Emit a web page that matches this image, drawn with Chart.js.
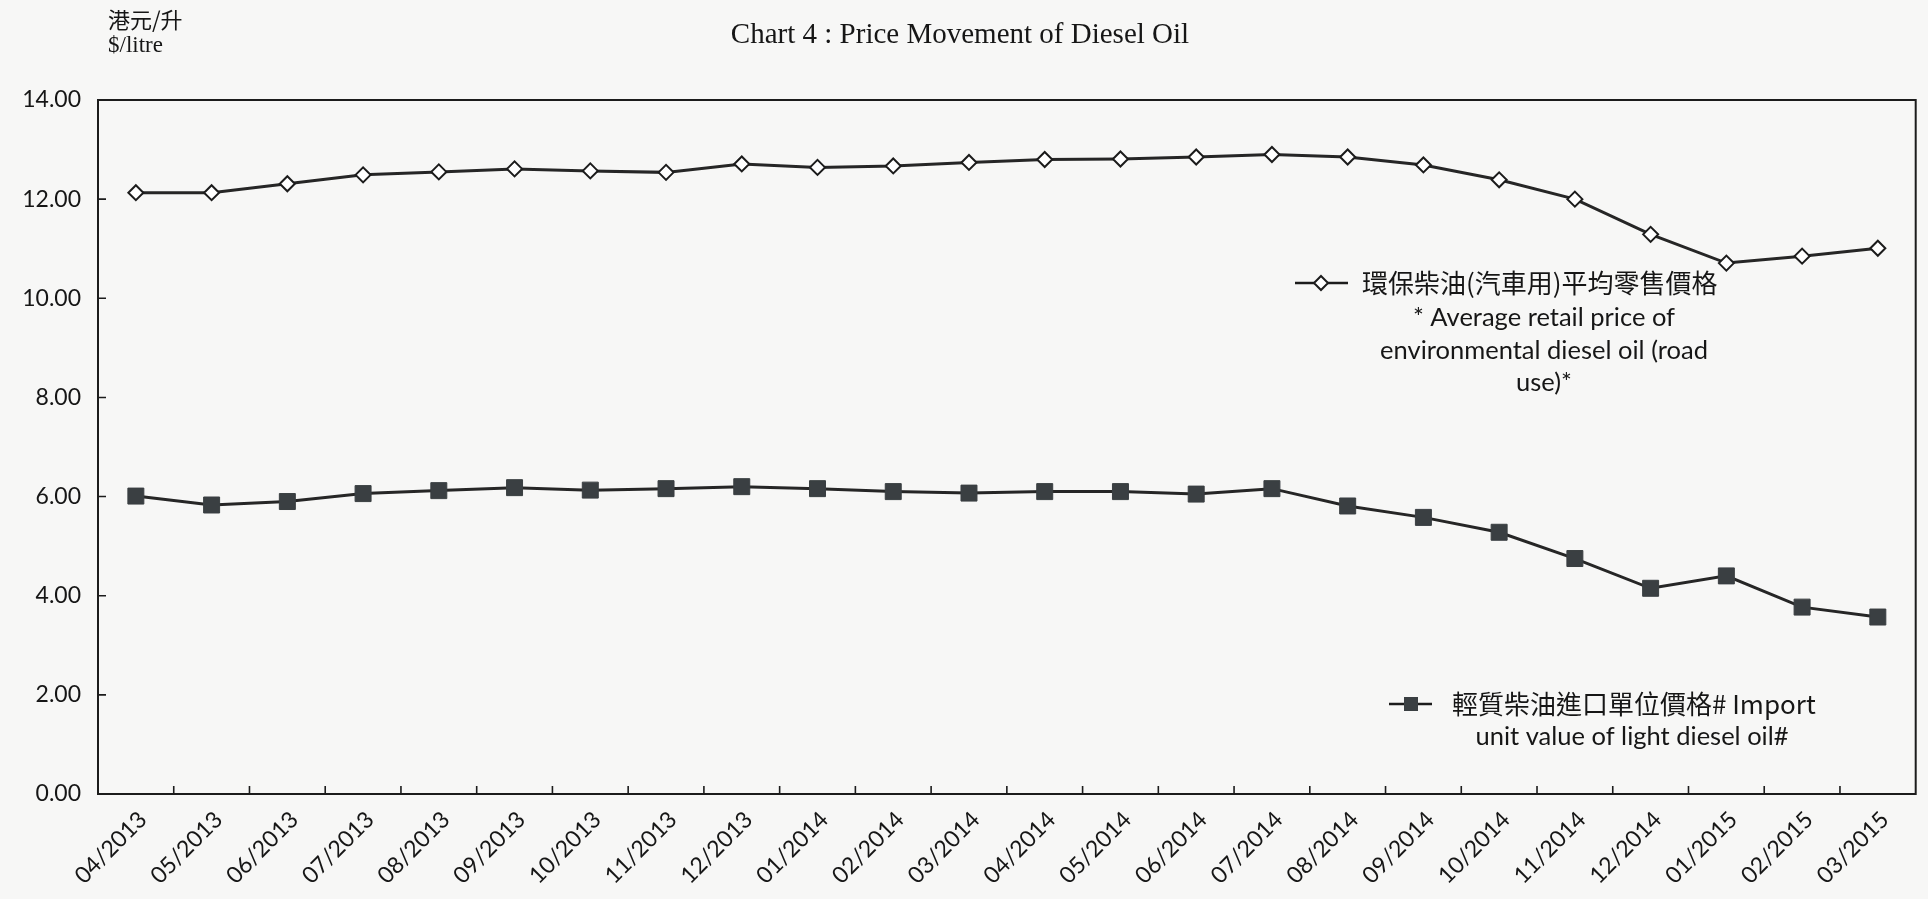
<!DOCTYPE html>
<html><head><meta charset="utf-8">
<script src="https://cdn.jsdelivr.net/npm/chart.js@4.4.1/dist/chart.umd.min.js"></script>
<style>html,body{margin:0;padding:0;background:#f7f7f6;}canvas{display:block;}</style>
</head><body>
<canvas id="c" width="1928" height="899"></canvas>
<script>
const months = ['04/2013','05/2013','06/2013','07/2013','08/2013','09/2013','10/2013','11/2013','12/2013',
  '01/2014','02/2014','03/2014','04/2014','05/2014','06/2014','07/2014','08/2014','09/2014','10/2014','11/2014','12/2014',
  '01/2015','02/2015','03/2015'];
const retailPrice = [12.13,12.13,12.31,12.49,12.55,12.61,12.57,12.54,12.71,12.64,12.67,12.74,
  12.80,12.81,12.85,12.90,12.85,12.69,12.39,12.00,11.29,10.71,10.85,11.01];
const importValue = [6.01,5.83,5.90,6.06,6.12,6.18,6.13,6.16,6.20,6.16,6.10,6.07,
  6.10,6.10,6.05,6.16,5.81,5.58,5.28,4.75,4.15,4.40,3.77,3.57];
const yMin = 0, yMax = 14, yStep = 2;
const titleText = 'Chart 4 : Price Movement of Diesel Oil';
const unitLines = ['港元/升', '$/litre'];
const retailLegendLines = ['環保柴油(汽車用)平均零售價格', '* Average retail price of', 'environmental diesel oil (road', 'use)*'];
const importLegendLines = ['輕質柴油進口單位價格# Import', 'unit value of light diesel oil#'];

const INK = '#1c1c1c';
const TXT = '#161616';
const SANS = 'Lato, "Open Sans", sans-serif';
const CJK = '"Noto Sans CJK TC", "Noto Sans CJK SC", sans-serif';

function diamond(ctx, x, y, r) {
  ctx.beginPath(); ctx.moveTo(x, y - r); ctx.lineTo(x + r, y); ctx.lineTo(x, y + r); ctx.lineTo(x - r, y); ctx.closePath();
}

const decor = {
  id: 'decor',
  beforeDatasetsDraw(chart) {
    const {ctx, chartArea: a, scales: {x, y}} = chart;
    ctx.save();
    ctx.strokeStyle = INK; ctx.lineWidth = 2;
    ctx.strokeRect(a.left, a.top, a.right - a.left, a.bottom - a.top);
    ctx.lineWidth = 1.6;
    ctx.beginPath();
    y.ticks.forEach(t => { const py = y.getPixelForValue(t.value); ctx.moveTo(a.left, py); ctx.lineTo(a.left + 8, py); });
    for (let i = 1; i < months.length; i++) {
      const px = (x.getPixelForValue(i - 1) + x.getPixelForValue(i)) / 2;
      ctx.moveTo(px, a.bottom); ctx.lineTo(px, a.bottom - 8);
    }
    ctx.stroke();
    ctx.restore();
  },
  afterDraw(chart) {
    const {ctx} = chart;
    ctx.save();
    ctx.fillStyle = TXT;
    ctx.textBaseline = 'middle';
    // unit label
    ctx.textAlign = 'left';
    ctx.font = '22px ' + CJK;
    ctx.fillText(unitLines[0], 108, 20);
    ctx.font = '23px "Liberation Serif", serif';
    ctx.fillText(unitLines[1], 108, 46);

    // legend 1 (retail)
    ctx.strokeStyle = INK; ctx.lineWidth = 2.5;
    ctx.beginPath(); ctx.moveTo(1295, 283); ctx.lineTo(1348, 283); ctx.stroke();
    diamond(ctx, 1321, 283, 7); ctx.fillStyle = '#fff'; ctx.fill(); ctx.lineWidth = 2; ctx.stroke();
    ctx.fillStyle = TXT;
    ctx.font = '26px ' + CJK; ctx.textAlign = 'left';
    ctx.fillText(retailLegendLines[0], 1362, 283);
    ctx.font = '25.5px ' + SANS; ctx.textAlign = 'center';
    ctx.fillText(retailLegendLines[1], 1544, 318);
    ctx.fillText(retailLegendLines[2], 1544, 351);
    ctx.fillText(retailLegendLines[3], 1544, 383);

    // legend 2 (import)
    ctx.strokeStyle = INK; ctx.lineWidth = 2.5;
    ctx.beginPath(); ctx.moveTo(1389, 704); ctx.lineTo(1432, 704); ctx.stroke();
    ctx.fillStyle = '#3a3f42'; ctx.fillRect(1404, 697, 14, 14);
    ctx.fillStyle = TXT;
    ctx.font = '26px ' + CJK; ctx.textAlign = 'left';
    ctx.fillText(importLegendLines[0], 1452, 704);
    ctx.font = '25.5px ' + SANS; ctx.textAlign = 'center';
    ctx.fillText(importLegendLines[1], 1632, 737);
    ctx.restore();
  }
};

new Chart(document.getElementById('c'), {
  type: 'line',
  data: {
    labels: months,
    datasets: [
      { label: retailLegendLines.join(' '), data: retailPrice, borderColor: '#262626', borderWidth: 3, tension: 0,
        pointStyle: 'rectRot', pointRadius: 7.5, pointBackgroundColor: '#ffffff', pointBorderColor: INK, pointBorderWidth: 2 },
      { label: importLegendLines.join(' '), data: importValue, borderColor: '#262626', borderWidth: 3, tension: 0,
        pointStyle: 'rect', pointRadius: 11.3, pointBackgroundColor: '#3a3f42', pointBorderColor: '#3a3f42', pointBorderWidth: 1 }
    ]
  },
  options: {
    responsive: false, animation: false, devicePixelRatio: 1,
    layout: { padding: { left: 0, right: 8, top: 0, bottom: 0 } },
    plugins: {
      legend: { display: false }, tooltip: { enabled: false },
      title: { display: true, text: titleText, color: TXT,
        font: { family: '"Liberation Serif", serif', size: 29, weight: 'normal' },
        padding: { top: 18, bottom: 47.2 } }
    },
    scales: {
      x: { type: 'category', offset: true,
        grid: { display: false, drawTicks: false }, border: { display: false },
        ticks: { color: TXT, font: { family: SANS, size: 23 }, minRotation: 45, maxRotation: 45, autoSkip: false, padding: 12, labelOffset: 7 },
        afterFit(s) { s.height = 105; } },
      y: { min: yMin, max: yMax,
        grid: { display: false, drawTicks: false }, border: { display: false },
        ticks: { stepSize: yStep, color: TXT, font: { family: SANS, size: 23 }, padding: 17,
          callback: v => Number(v).toFixed(2) },
        afterFit(s) { s.width = 98; } }
    }
  },
  plugins: [decor]
});
</script>
</body></html>
